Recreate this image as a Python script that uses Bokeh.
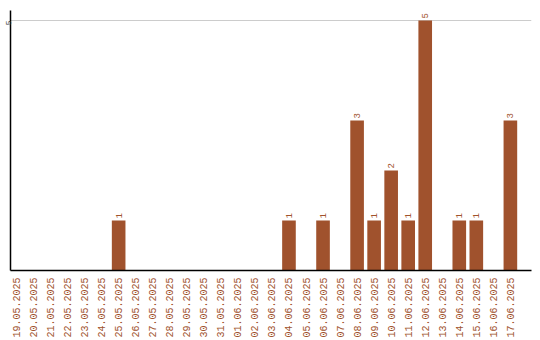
import math
from bokeh.plotting import figure
from bokeh.models import Range1d, FixedTicker, ColumnDataSource
from bokeh.core.properties import value
from bokeh.embed import file_html
from bokeh.resources import INLINE

dates = ["19.05.2025", "20.05.2025", "21.05.2025", "22.05.2025", "23.05.2025",
         "24.05.2025", "25.05.2025", "26.05.2025", "27.05.2025", "28.05.2025",
         "29.05.2025", "30.05.2025", "31.05.2025", "01.06.2025", "02.06.2025",
         "03.06.2025", "04.06.2025", "05.06.2025", "06.06.2025", "07.06.2025",
         "08.06.2025", "09.06.2025", "10.06.2025", "11.06.2025", "12.06.2025",
         "13.06.2025", "14.06.2025", "15.06.2025", "16.06.2025", "17.06.2025"]
counts = [0, 0, 0, 0, 0, 0, 1, 0, 0, 0, 0, 0, 0, 0, 0,
          0, 1, 0, 1, 0, 3, 1, 2, 1, 5, 0, 1, 1, 0, 3]
y_ticks = [5]

BAR = "#A0522D"

idx = list(range(len(dates)))
src = ColumnDataSource(dict(x=idx, y=counts))
nz = [i for i, c in enumerate(counts) if c > 0]
lab_src = ColumnDataSource(dict(x=nz, y=[counts[i] for i in nz],
                                t=[str(counts[i]) for i in nz]))

p = figure(width=540, height=340, output_backend="svg", toolbar_location=None,
           x_range=Range1d(-0.35, 30.24), y_range=Range1d(0, 5.2),
           min_border_left=0, min_border_right=9, min_border_top=10,
           min_border_bottom=0)
p.outline_line_color = None
p.background_fill_color = "white"
p.border_fill_color = "white"

p.vbar(x="x", top="y", width=0.8, bottom=0, source=src,
       fill_color=BAR, line_color=None)
p.text(x="x", y="y", text="t", source=lab_src, angle=math.pi / 2,
       text_align="left", text_baseline="middle", y_offset=-2,
       text_font=value("Liberation Mono"), text_font_size="9px",
       text_color=BAR)

p.xgrid.visible = False
p.ygrid.ticker = FixedTicker(ticks=y_ticks)
p.ygrid.grid_line_color = "#cccccc"

xa = p.xaxis[0]
xa.ticker = FixedTicker(ticks=idx)
xa.major_label_overrides = {i: d for i, d in enumerate(dates)}
xa.major_label_orientation = math.pi / 2
xa.major_label_text_font = "Liberation Mono"
xa.major_label_text_font_size = "10px"
xa.major_label_text_color = BAR
xa.major_tick_line_color = None
xa.minor_tick_line_color = None
xa.major_tick_out = 0
xa.major_tick_in = 0
xa.major_label_standoff = 7
xa.axis_line_color = "black"
xa.axis_line_width = 1.5

ya = p.yaxis[0]
ya.ticker = FixedTicker(ticks=y_ticks)
ya.major_label_orientation = math.pi / 2
ya.major_label_text_font = "Liberation Mono"
ya.major_label_text_font_size = "8px"
ya.major_label_text_color = "#333333"
ya.major_tick_line_color = None
ya.minor_tick_line_color = None
ya.major_tick_out = 0
ya.major_tick_in = 0
ya.major_label_standoff = 2
ya.axis_line_color = "black"
ya.axis_line_width = 1.5

open("out.html", "w").write(file_html(p, INLINE))
